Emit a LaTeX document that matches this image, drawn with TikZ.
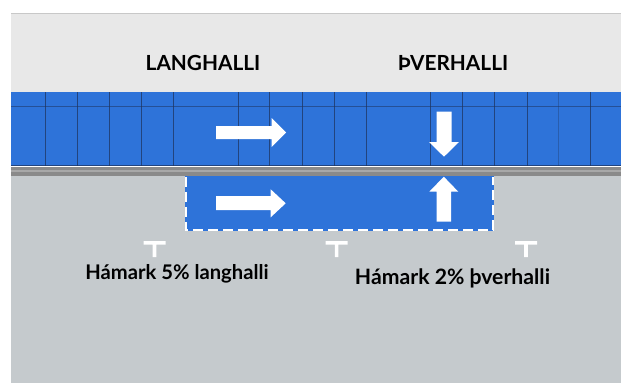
\documentclass[tikz,border=0pt]{standalone}
\usepackage{fontspec}
\setmainfont{Lato}
\definecolor{hdr}{HTML}{E8E8E8}
\definecolor{hdrline}{HTML}{C8C8C8}
\definecolor{road}{HTML}{2E73D9}
\definecolor{ground}{HTML}{C5CACD}
\definecolor{curbdark}{HTML}{8A8A8A}
\definecolor{curblight}{HTML}{A8A8A8}
\definecolor{gridln}{HTML}{1E3560}
\tikzset{
  arrowfill/.style={fill=white,draw=none},
  gridline/.style={draw=gridln,line width=0.9pt,draw opacity=0.75},
  tmark/.style={fill=white,draw=none},
  headtxt/.style={font=\bfseries\fontsize{20.8}{24}\selectfont,text=black,inner sep=0pt},
  lowtxt/.style={text=black,inner sep=0pt,anchor=base}
}
\begin{document}
\begin{tikzpicture}[x=1pt,y=-1pt]
\useasboundingbox (0,0) rectangle (621,383);
\fill[white] (0,0) rectangle (621,383);
% header
\fill[hdr] (11,13) rectangle (621,92);
\draw[hdrline,line width=1.2pt] (11,13.3) -- (621,13.3);
% ground
\fill[ground] (11,176) rectangle (621,383);
% road band
\fill[road] (11,92) rectangle (621,166);
\foreach \x in {45,77,109,141,173,238,269,302,334,366,430,462,494,527,590}
  \draw[gridline] (\x,92) -- (\x,166);
\draw[gridline,draw opacity=0.35] (558,92) -- (558,166);
\draw[gridline,draw opacity=0.55] (11,106) -- (621,106);
\draw[gridline] (11,165.3) -- (621,165.3);
% curb
\fill[curbdark] (11,166.5) rectangle (621,176);
\fill[curblight] (11,169.5) rectangle (621,172);
% lower widening box
\fill[road] (185,176) rectangle (494,231);
\draw[white,line width=2pt,dash pattern=on 10pt off 5pt] (186,177) -- (186,230) -- (493,230) -- (493,177);
% arrows
\fill[arrowfill] (216,126) -- (271.7,126) -- (271.7,118) -- (286,132.5) -- (271.7,147) -- (271.7,139) -- (216,139) -- cycle;
\fill[arrowfill] (436.7,111.7) -- (451.7,111.7) -- (451.7,142) -- (459,142) -- (444,156.7) -- (429,142) -- (436.7,142) -- cycle;
\fill[arrowfill] (216,196) -- (270.7,196) -- (270.7,189.3) -- (285.7,203.3) -- (270.7,217.3) -- (270.7,210) -- (216,210) -- cycle;
\fill[arrowfill] (436.7,221.7) -- (451,221.7) -- (451,191.7) -- (458.3,191.7) -- (443.8,176.7) -- (429.3,191.7) -- (436.7,191.7) -- cycle;
% T markers
\foreach \x in {154.5,336.6,526}
  \fill[tmark] (\x-11,241) rectangle (\x+11,244.5) (\x-1.8,244.5) rectangle (\x+1.8,257);
% texts
\node[headtxt] (lang) at (203,62.5) {LANGHALLI};
\node[headtxt] (thver) at (453,62.5) {ÞVERHALLI};
\node[lowtxt,font=\bfseries\fontsize{20.2}{24}\selectfont] (lowlang) at (177,279) {Hámark 5\% langhalli};
\node[lowtxt,font=\bfseries\fontsize{21.2}{25}\selectfont] (lowthver) at (452.5,284) {Hámark 2\% þverhalli};
\end{tikzpicture}
\end{document}
